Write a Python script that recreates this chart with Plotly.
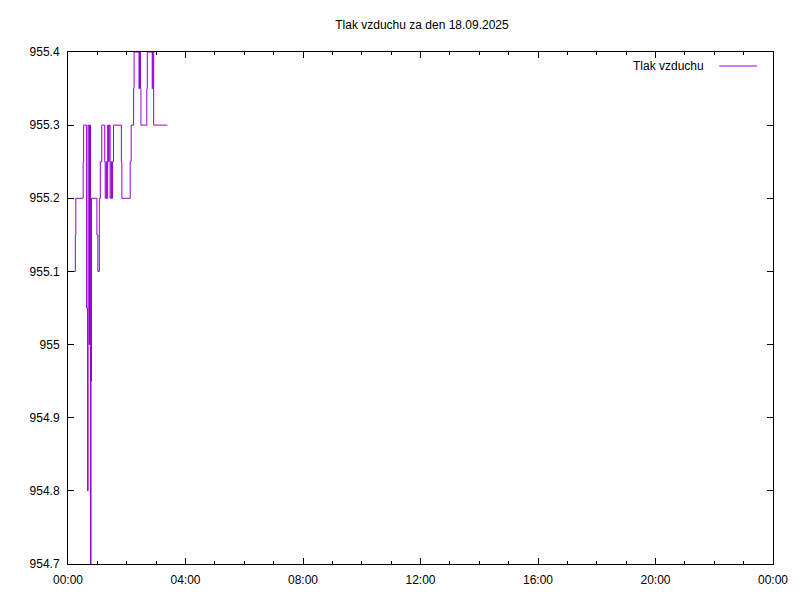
import plotly.graph_objects as go

# Data (step series: value holds from time until the next time)
times = ["00:01", "00:15", "00:16", "00:31", "00:32", "00:38", "00:40", "00:41",
         "00:43", "00:44", "00:46", "00:47", "00:48", "00:59", "01:01", "01:04",
         "01:06", "01:09", "01:15", "01:16", "01:18", "01:19", "01:21", "01:23",
         "01:24", "01:26", "01:28", "01:29", "01:31", "01:33", "01:49", "01:50",
         "02:07", "02:09", "02:14", "02:15", "02:25", "02:26", "02:28", "02:29",
         "02:41", "02:42", "02:52", "02:53", "02:55", "03:23"]
pressure = [955.10, 955.15, 955.20, 955.25, 955.30, 955.05, 954.80, 955.30,
            955.00, 955.30, 954.70, 954.95, 955.20, 955.15, 955.10, 955.20,
            955.25, 955.30, 955.25, 955.20, 955.25, 955.20, 955.30, 955.25,
            955.30, 955.20, 955.25, 955.20, 955.25, 955.30, 955.25, 955.20,
            955.25, 955.30, 955.35, 955.40, 955.35, 955.40, 955.35, 955.30,
            955.35, 955.40, 955.35, 955.40, 955.30, 955.30]
date = "2025-09-18"
y_ticks = [954.7, 954.8, 954.9, 955.0, 955.1, 955.2, 955.3, 955.4]
y_tick_labels = ["954.7", "954.8", "954.9", "955", "955.1", "955.2", "955.3", "955.4"]
x_tick_labels = ["00:00", "04:00", "08:00", "12:00", "16:00", "20:00", "00:00"]
x_tick_vals = ["2025-09-18 00:00", "2025-09-18 04:00", "2025-09-18 08:00",
               "2025-09-18 12:00", "2025-09-18 16:00", "2025-09-18 20:00",
               "2025-09-19 00:00"]
title = "Tlak vzduchu za den 18.09.2025"
series_name = "Tlak vzduchu"
color = "#9400D3"

x = [f"{date} {t}" for t in times]

fig = go.Figure()
fig.add_trace(go.Scatter(x=x, y=pressure, mode="lines", name=series_name,
                         line=dict(color=color, width=1, shape="hv"),
                         showlegend=False))

font_family = "Liberation Sans, Arial, sans-serif"
axis_common = dict(showline=True, linecolor="black", linewidth=1, mirror="ticks",
                   ticks="inside", ticklen=6, tickcolor="black", showgrid=False,
                   zeroline=False, tickfont=dict(family=font_family, size=12, color="black"))

fig.update_xaxes(type="date", range=["2025-09-18 00:00", "2025-09-19 00:00"],
                 tickvals=x_tick_vals, ticktext=x_tick_labels, ticklabelstandoff=5,
                 minor=dict(ticks="inside", ticklen=3, dtick=3600000, tickcolor="black"),
                 **axis_common)
fig.update_yaxes(range=[954.7, 955.4], tickvals=y_ticks, ticktext=y_tick_labels,
                 ticklabelstandoff=5, **axis_common)

# page has an 8px body margin: figure is 792x592, plot area ~68..774 x 52..564
W, H = 792, 592
L, R, T, B = 60, 24, 44, 36
pw, ph = W - L - R, H - T - B


def px(xp):
    return (xp - 8 - L) / pw


def py(yp):
    return (H - B - (yp - 8)) / ph


# gnuplot-style key: text then sample line
fig.add_annotation(xref="paper", yref="paper", x=px(709), y=py(66),
                   text=series_name, showarrow=False, xanchor="right", yanchor="middle",
                   font=dict(family=font_family, size=12, color="black"))
fig.add_shape(type="line", xref="paper", yref="paper",
              x0=px(722), x1=px(760), y0=py(66), y1=py(66),
              line=dict(color=color, width=1))

fig.update_layout(
    width=W, height=H,
    margin=dict(l=L, r=R, t=T, b=B),
    paper_bgcolor="white", plot_bgcolor="white",
    title=dict(text=title, x=(L + pw / 2) / W, xanchor="center", y=1 - 17 / H,
               yanchor="middle", font=dict(family=font_family, size=12, color="black")),
    showlegend=False,
)

fig.write_html("out.html")
